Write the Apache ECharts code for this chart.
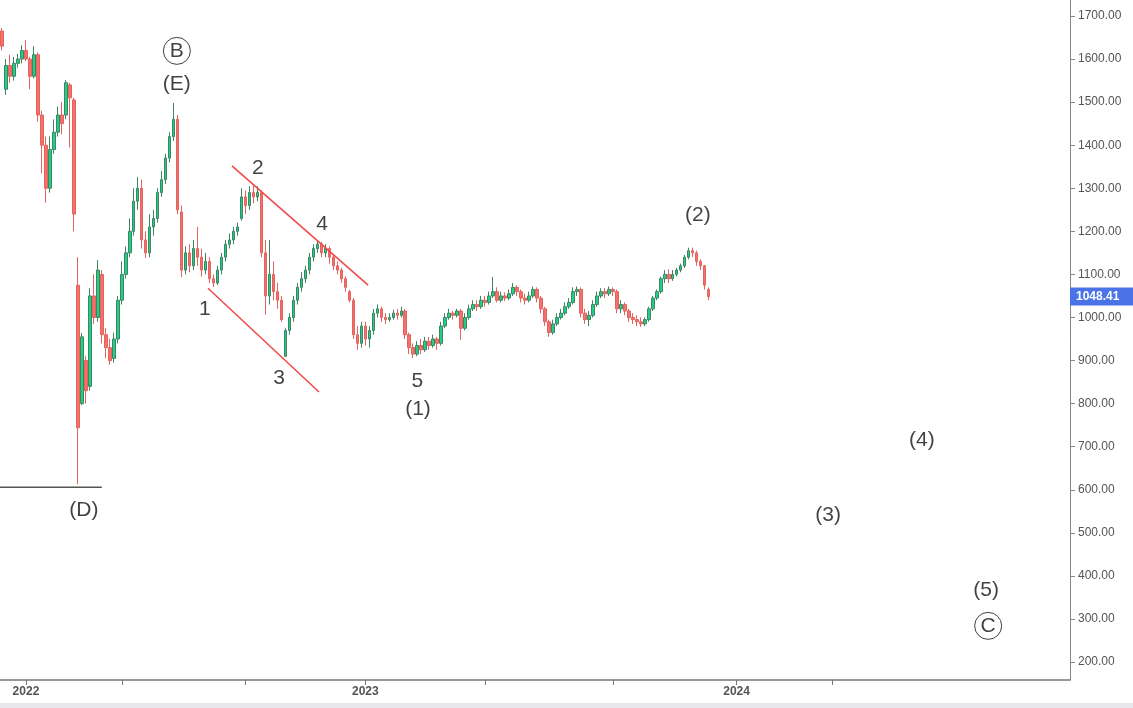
<!DOCTYPE html>
<html>
<head>
<meta charset="utf-8">
<style>
  html, body { margin: 0; padding: 0; background: #fff; }
  #chart { width: 1133px; height: 708px; }
</style>
<script src="https://cdn.jsdelivr.net/npm/echarts@6.0.0/dist/echarts.min.js"></script>
</head>
<body>
<div id="chart"></div>
<script>
// candles, one slot per ~4px
const openVals = [1665,1530,1585,1560,1590,1600,1620,1600,1560,1610,1470,1400,1300,1390,1430,1470,1470,1540,1505,1075,
  800,900,840,1050,1000,1100,960,930,905,950,1040,1100,1150,1200,1270,1300,1180,1150,1210,1230,
  1290,1320,1370,1420,1460,1245,1110,1150,1120,1160,1140,1110,1130,1090,1080,1110,1140,1170,1180,1200,
  1230,1280,1260,1290,1280,1290,1150,1050,1100,1060,1040,910,970,1000,1040,1070,1090,1110,1140,1160,
  1170,1150,1160,1140,1120,1110,1090,1060,1040,960,940,980,950,970,1010,1020,1000,995,1000,1010,
  1005,1015,960,930,915,935,925,945,935,950,940,980,1000,1010,1005,1015,975,1000,1020,1030,
  1025,1040,1035,1050,1060,1040,1050,1045,1055,1070,1060,1045,1040,1050,1065,1045,1020,990,965,985,
  1000,1010,1025,1035,1060,1065,1010,995,1005,1030,1050,1060,1055,1065,1060,1020,1030,1015,1000,995,
  990,985,995,1020,1045,1060,1090,1100,1090,1100,1110,1120,1140,1155,1150,1130,1120,1065];
const closeVals = [1630,1585,1560,1590,1600,1620,1600,1560,1610,1470,1400,1300,1390,1430,1470,1450,1545,1510,1240,744,
  955,830,1050,1000,1110,960,930,900,950,1040,1100,1150,1200,1270,1300,1180,1150,1210,1230,1290,
  1320,1370,1420,1460,1250,1110,1150,1120,1160,1140,1110,1130,1090,1080,1110,1140,1170,1180,1200,1210,
  1280,1260,1290,1280,1290,1150,1050,1100,1060,1040,995,970,1000,1040,1070,1090,1110,1140,1160,1170,
  1150,1160,1140,1120,1110,1090,1070,1040,960,940,980,950,970,1010,1020,1000,995,1000,1010,1005,
  1015,960,930,915,935,925,945,935,950,940,980,1000,1010,1005,1015,975,1000,1020,1030,1025,
  1040,1035,1050,1060,1040,1050,1045,1055,1070,1060,1045,1040,1050,1065,1045,1020,990,965,985,1000,
  1010,1025,1035,1060,1065,1010,995,1005,1030,1050,1060,1055,1065,1060,1020,1030,1015,1000,995,990,
  985,995,1020,1045,1060,1090,1100,1090,1100,1110,1120,1140,1155,1150,1130,1120,1075,1048.41];
const highVals = [1672,1600,1610,1605,1612,1632,1644,1605,1630,1615,1480,1420,1420,1460,1490,1500,1551,1545,1510,1140,
  964,910,1068,1100,1133,1110,975,950,965,1050,1130,1165,1230,1300,1326,1320,1200,1240,1250,1300,
  1340,1380,1430,1498,1470,1260,1165,1170,1180,1210,1160,1150,1140,1100,1120,1150,1180,1195,1210,1220,
  1300,1295,1305,1308,1305,1295,1180,1180,1130,1080,1050,975,1010,1050,1080,1105,1120,1150,1170,1178,
  1175,1170,1165,1145,1130,1115,1095,1064,1045,980,990,990,980,1020,1030,1025,1010,1010,1018,1020,
  1025,1020,965,940,945,950,955,955,960,955,990,1010,1020,1015,1020,1020,1010,1030,1040,1040,
  1050,1050,1060,1094,1070,1060,1058,1065,1080,1075,1065,1055,1060,1072,1070,1050,1025,995,995,1010,
  1020,1035,1045,1070,1072,1070,1020,1015,1040,1060,1068,1068,1072,1070,1065,1040,1035,1020,1010,1005,
  1000,1000,1025,1050,1065,1095,1110,1112,1110,1115,1125,1145,1162,1162,1155,1135,1122,1070];
const lowVals = [1620,1517,1545,1550,1580,1590,1595,1530,1555,1455,1335,1266,1290,1380,1420,1425,1460,1395,1200,613,
  797,800,830,985,990,940,905,890,895,940,1030,1090,1140,1190,1250,1160,1138,1140,1190,1220,
  1280,1310,1360,1410,1240,1094,1100,1105,1110,1120,1095,1100,1080,1071,1075,1100,1130,1160,1170,1190,
  1225,1240,1250,1265,1270,1140,1006,1030,1040,1020,990,908,960,990,1030,1060,1080,1100,1130,1150,
  1140,1140,1125,1110,1100,1080,1060,1035,950,925,930,935,930,960,1000,990,985,990,995,995,
  1000,950,915,906,910,915,920,925,930,925,935,975,995,995,1000,948,970,995,1015,1015,
  1020,1025,1030,1045,1035,1035,1038,1040,1050,1050,1035,1030,1035,1045,1035,1010,980,955,960,980,
  995,1005,1020,1030,1050,1000,985,980,1000,1025,1045,1045,1050,1050,1010,1010,1005,990,985,980,
  978,980,990,1015,1040,1055,1080,1080,1085,1095,1105,1115,1135,1140,1120,1110,1065,1040];

const lastPrice = 1048.41;

// slots across the whole x axis (data + empty future)
const slotCount = 268;
const xTickIndex = [6, 30, 61, 91, 121, 153, 184, 208];
const xTickLabel = ['2022', '', '', '2023', '', '', '2024', ''];
const yTickValues = [200, 300, 400, 500, 600, 700, 800, 900, 1000, 1100, 1200, 1300, 1400, 1500, 1600, 1700];

// wave labels, in slot index / price
const waveText = ['B', '(E)', '(D)', '1', '2', '3', '4', '5', '(1)', '(2)', '(3)', '(4)', '(5)', 'C'];
const waveCircled = [true, false, false, false, false, false, false, false, false, false, false, false, false, true];
const waveIdx = [43.8, 43.8, 20.5, 50.8, 64.1, 69.4, 80.2, 104.0, 104.2, 174.3, 206.9, 230.4, 246.5, 247.0];
const wavePrice = [1619, 1542, 553, 1020, 1347, 860, 1217, 852, 787, 1238, 541, 716, 367, 284];

// channel lines and the (D) low line
const upperLine = [[57.6, 1352], [91.7, 1075]];
const lowerLine = [[51.6, 1068], [79.4, 827]];
const lowLine = [[-0.5, 606], [25.0, 606]];

const categories = Array.from({ length: slotCount }, (_, i) => String(i));
const candleData = openVals.map((o, i) => [o, closeVals[i], lowVals[i], highVals[i]]);
const tickSet = new Set(xTickIndex);

const chart = echarts.init(document.getElementById('chart'));
chart.setOption({
  animation: false,
  textStyle: { fontFamily: 'Liberation Sans, Arial, sans-serif' },
  grid: { left: 0, right: 63, top: 0, bottom: 28 },
  xAxis: [
    {
      type: 'category',
      data: categories,
      boundaryGap: true,
      axisLine: { onZero: false, lineStyle: { color: '#777', width: 1.5 } },
      axisTick: {
        show: true,
        alignWithLabel: true,
        interval: (idx) => tickSet.has(idx),
        length: 5,
        lineStyle: { color: '#777', width: 1 }
      },
      axisLabel: {
        interval: (idx) => tickSet.has(idx),
        formatter: (v, idx) => {
          const k = xTickIndex.indexOf(idx);
          return k >= 0 ? xTickLabel[k] : '';
        },
        color: '#555',
        fontSize: 12,
        fontWeight: 'bold',
        margin: 6
      },
      splitLine: { show: false }
    },
    { type: 'value', min: -0.5, max: slotCount - 0.5, show: false }
  ],
  yAxis: {
    type: 'value',
    position: 'right',
    min: 158.3,
    max: 1737.1,
    scale: true,
    axisLine: { show: true, onZero: false, lineStyle: { color: '#888' } },
    axisTick: { show: true, customValues: yTickValues, length: 5, lineStyle: { color: '#888' } },
    axisLabel: {
      customValues: yTickValues,
      formatter: (v) => Number(v).toFixed(2),
      color: '#555',
      fontSize: 12,
      margin: 8
    },
    splitLine: { show: false }
  },
  series: [
    {
      type: 'candlestick',
      data: candleData,
      barWidth: 3,
      itemStyle: {
        color: '#1fcf83',
        color0: '#f2726b',
        borderColor: '#3f8466',
        borderColor0: '#e6625c',
        borderWidth: 1
      },
      markLine: {
        silent: true,
        symbol: 'none',
        lineStyle: { color: 'transparent', width: 0 },
        data: [{ yAxis: lastPrice }],
        label: {
          show: true,
          position: 'end',
          distance: 0,
          formatter: lastPrice.toFixed(2),
          backgroundColor: '#4a73e8',
          color: '#fff',
          fontSize: 12,
          fontWeight: 'bold',
          padding: [3, 14, 3, 6]
        }
      }
    },
    {
      type: 'line', xAxisIndex: 1, data: upperLine, symbol: 'none', silent: true,
      lineStyle: { color: '#f04848', width: 1.5 }
    },
    {
      type: 'line', xAxisIndex: 1, data: lowerLine, symbol: 'none', silent: true,
      lineStyle: { color: '#f04848', width: 1.5 }
    },
    {
      type: 'line', xAxisIndex: 1, data: lowLine, symbol: 'none', silent: true,
      lineStyle: { color: '#555', width: 1.5 }
    },
    {
      type: 'scatter',
      xAxisIndex: 1,
      symbolSize: 0,
      silent: true,
      data: waveText.map((t, i) => ({ value: [waveIdx[i], wavePrice[i]], name: t })),
      label: {
        show: true,
        position: 'inside',
        fontSize: 21,
        color: '#111',
        formatter: (p) => waveCircled[p.dataIndex] ? '{c|' + p.name + '}' : p.name,
        rich: {
          c: {
            fontSize: 21,
            color: '#111',
            width: 27,
            height: 27,
            lineHeight: 27,
            align: 'center',
            borderColor: '#111',
            borderWidth: 1,
            borderRadius: 14
          }
        }
      }
    }
  ],
  graphic: [
    { type: 'rect', left: 0, top: 703, shape: { width: 1133, height: 5 }, style: { fill: '#e8e8ec' }, silent: true }
  ]
});
</script>
</body>
</html>
